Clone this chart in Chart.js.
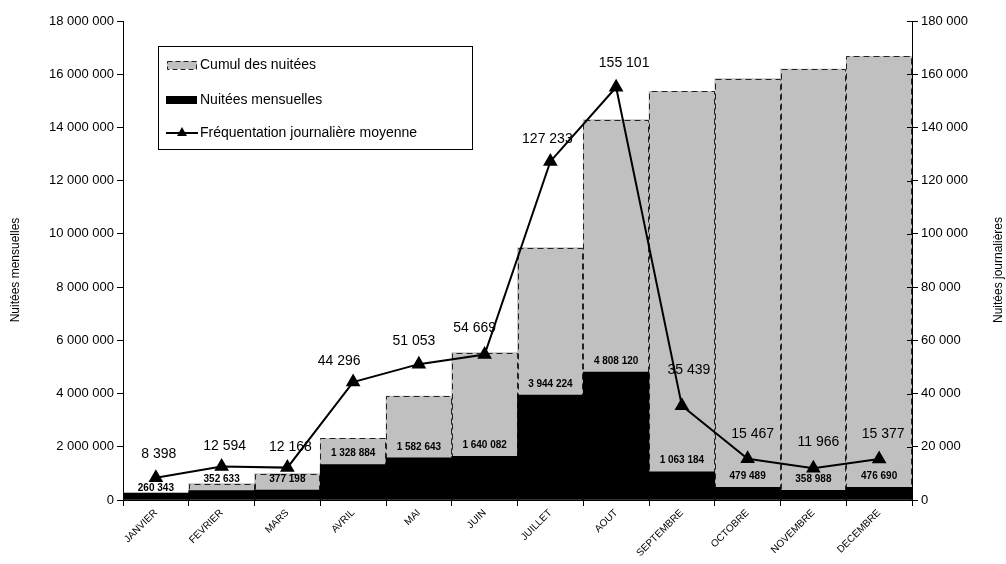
<!DOCTYPE html>
<html><head><meta charset="utf-8">
<script src="https://cdn.jsdelivr.net/npm/chart.js@4"></script>
<style>html,body{margin:0;padding:0;background:#fff}#wrap{width:1006px;height:564px;position:relative}</style>
</head><body><div id="wrap"><canvas id="c" width="1006" height="564"></canvas></div>
<script>
const months = ["JANVIER","FEVRIER","MARS","AVRIL","MAI","JUIN","JUILLET","AOUT","SEPTEMBRE","OCTOBRE","NOVEMBRE","DECEMBRE"];
const monthly = [260343,352633,377198,1328884,1582643,1640082,3944224,4808120,1063184,479489,358988,476690];
const cumulative = [260343,612976,990174,2319058,3901701,5541783,9486007,14294127,15357311,15836800,16195788,16672478];
const daily = [8398,12594,12168,44296,51053,54669,127233,155101,35439,15467,11966,15377];
const seriesNames = ["Cumul des nuitées","Nuitées mensuelles","Fréquentation journalière moyenne"];
const axisTitles = ["Nuitées mensuelles","Nuitées journalières"];
// label offsets (style) for daily labels [dx, dy]
const dailyLabelOffset = [[3,-24],[3,-20],[3,-20],[-14,-21],[-5,-23],[-10,-26],[-3,-22],[8,-24],[7,-36],[5,-25],[5,-26],[4,-25]];

const FONT = "'Liberation Sans', Arial, sans-serif";
const fmt = v => String(Math.round(v)).replace(/\B(?=(\d{3})+(?!\d))/g, ' ');

const overlay = {
  id: 'overlay',
  afterDatasetDraw(chart, args) {
    if (args.index !== 2) return;
    const ctx = chart.ctx;
    const meta = chart.getDatasetMeta(2);
    ctx.save();
    ctx.strokeStyle = '#222';
    ctx.lineWidth = 1;
    ctx.setLineDash([6,4]);
    meta.data.forEach(el => {
      const p = el.getProps(['x','y','base','width'], true);
      const l = Math.round(p.x - p.width/2) + 0.5, r = Math.round(p.x + p.width/2) - 0.5, t = Math.round(p.y) + 0.5, b = p.base;
      ctx.beginPath();
      ctx.moveTo(l, b); ctx.lineTo(l, t); ctx.lineTo(r, t); ctx.lineTo(r, b);
      ctx.stroke();
    });
    ctx.restore();
  },
  afterDatasetsDraw(chart) {
    const ctx = chart.ctx;
    ctx.save();
    ctx.fillStyle = '#000';
    ctx.textAlign = 'center';
    ctx.textBaseline = 'middle';
    ctx.font = 'bold 10px ' + FONT;
    chart.getDatasetMeta(1).data.forEach((el, i) => {
      ctx.fillText(fmt(monthly[i]), el.x, el.y - (i === 0 ? 5 : 11));
    });
    ctx.font = '14px ' + FONT;
    chart.getDatasetMeta(0).data.forEach((el, i) => {
      const o = dailyLabelOffset[i];
      ctx.fillText(fmt(daily[i]), el.x + o[0], el.y + o[1]);
    });
    ctx.restore();
  },
  afterDraw(chart) {
    const ctx = chart.ctx;
    const ca = chart.chartArea;
    ctx.save();
    const yR = chart.scales.yR;
    ctx.strokeStyle = '#000'; ctx.lineWidth = 1;
    yR.ticks.forEach(t => {
      const y = Math.round(yR.getPixelForValue(t.value)) + 0.5;
      ctx.beginPath(); ctx.moveTo(ca.right - 5, y); ctx.lineTo(ca.right, y); ctx.stroke();
    });
    ctx.fillStyle = '#000';
    ctx.font = '12px ' + FONT;
    ctx.textAlign = 'center'; ctx.textBaseline = 'middle';
    ctx.save(); ctx.translate(16, 270); ctx.rotate(-Math.PI/2); ctx.fillText(axisTitles[0], 0, 0); ctx.restore();
    ctx.save(); ctx.translate(999, 270); ctx.rotate(-Math.PI/2); ctx.fillText(axisTitles[1], 0, 0); ctx.restore();
    const bx = 158.5, by = 46.5, bw = 314, bh = 103;
    ctx.fillStyle = '#fff';
    ctx.fillRect(bx, by, bw, bh);
    ctx.strokeStyle = '#000'; ctx.lineWidth = 1;
    ctx.strokeRect(bx, by, bw, bh);
    ctx.font = '14px ' + FONT;
    ctx.textAlign = 'left'; ctx.textBaseline = 'middle';
    const rows = [65, 100, 133];
    ctx.fillStyle = '#c0c0c0';
    ctx.fillRect(167, rows[0]-4, 30, 8);
    ctx.strokeStyle = '#222'; ctx.setLineDash([5,3]);
    ctx.strokeRect(167.5, rows[0]-3.5, 29, 8);
    ctx.setLineDash([]);
    ctx.fillStyle = '#000';
    ctx.fillRect(166, rows[1]-4, 31, 8);
    ctx.strokeStyle = '#000'; ctx.lineWidth = 2;
    ctx.beginPath(); ctx.moveTo(166, rows[2]); ctx.lineTo(198, rows[2]); ctx.stroke();
    ctx.beginPath(); ctx.moveTo(182, rows[2]-6); ctx.lineTo(187, rows[2]+3); ctx.lineTo(177, rows[2]+3); ctx.closePath(); ctx.fill();
    seriesNames.forEach((n, i) => ctx.fillText(n, 200, rows[i]));
    ctx.restore();
  }
};

Chart.defaults.font.family = FONT;
Chart.defaults.color = '#000';

new Chart(document.getElementById('c'), {
  data: {
    labels: months,
    datasets: [
      { type: 'line', label: seriesNames[2], data: daily, yAxisID: 'yR', borderColor: '#000', backgroundColor: '#000', borderWidth: 2, pointStyle: 'triangle', pointRadius: 6.5, pointBackgroundColor: '#000', pointBorderColor: '#000', tension: 0 },
      { type: 'bar', label: seriesNames[1], data: monthly, yAxisID: 'yL', backgroundColor: '#000', borderWidth: 0, grouped: false, barPercentage: 1, categoryPercentage: 1 },
      { type: 'bar', label: seriesNames[0], data: cumulative, yAxisID: 'yL', backgroundColor: '#c0c0c0', borderWidth: 0, grouped: false, barPercentage: 1, categoryPercentage: 1 }
    ]
  },
  options: {
    responsive: false,
    animation: false,
    layout: { padding: { top: 21, left: 0, right: 0, bottom: 0 } },
    plugins: { legend: { display: false }, tooltip: { enabled: false } },
    scales: {
      x: {
        offset: true,
        grid: { offset: true, drawOnChartArea: false, tickLength: 6, color: '#000' },
        border: { color: '#000' },
        ticks: { font: { size: 10 }, maxRotation: 45, minRotation: 45, autoSkip: false, padding: 1 },
        afterFit: s => { s.height = 64; }
      },
      yL: {
        position: 'left', min: 0, max: 18000000,
        ticks: { stepSize: 2000000, callback: v => fmt(v), font: { size: 13 }, padding: 3 },
        grid: { drawOnChartArea: false, tickLength: 6, color: '#000' },
        border: { color: '#000' },
        afterFit: s => { s.width = 123; }
      },
      yR: {
        position: 'right', min: 0, max: 180000,
        ticks: { stepSize: 20000, callback: v => fmt(v), font: { size: 13 }, padding: 3 },
        grid: { drawOnChartArea: false, tickLength: 6, color: '#000' },
        border: { color: '#000' },
        afterFit: s => { s.width = 94; }
      }
    }
  },
  plugins: [overlay]
});
</script></body></html>
